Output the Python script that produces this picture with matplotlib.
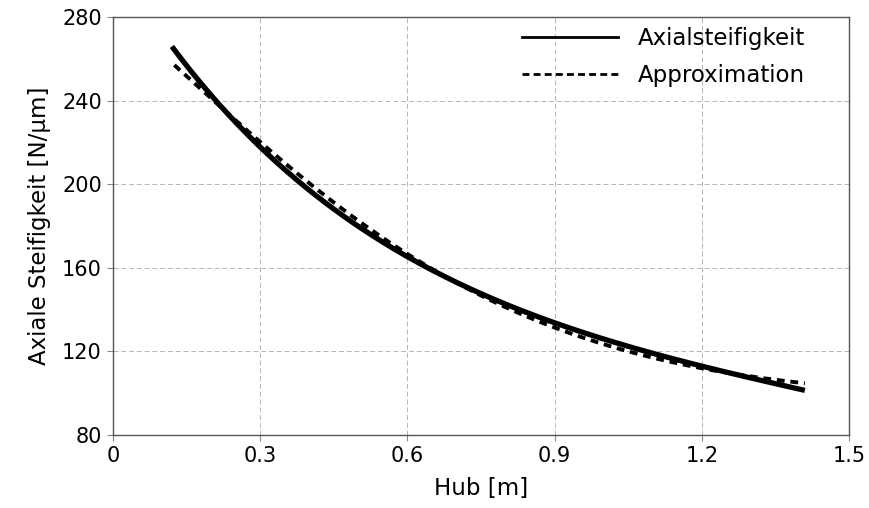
import matplotlib
matplotlib.use("Agg")
import matplotlib.pyplot as plt
import numpy as np
from matplotlib.lines import Line2D

# Hub [m] and axial stiffness [N/um]
hub = [0.12, 0.2, 0.3, 0.4, 0.5, 0.6, 0.7, 0.8, 0.9, 1.0, 1.1, 1.2, 1.3, 1.41]
steifigkeit = [266, 242, 218, 198, 180, 164, 153, 143, 134, 126, 119, 113, 107, 101.5]

hub_approx = [0.125, 0.2, 0.3, 0.4, 0.5, 0.6, 0.7, 0.8, 0.9, 1.0, 1.1, 1.2, 1.3, 1.41]
approx = [257, 241, 220, 201, 183, 166, 152.5, 141, 131.5, 124, 117, 112, 107.5, 105]

xticks = [0, 0.3, 0.6, 0.9, 1.2, 1.5]
xticklabels = ['0', '0.3', '0.6', '0.9', '1.2', '1.5']
yticks = [80, 120, 160, 200, 240, 280]

plt.rcParams['font.family'] = ['DejaVu Sans']

fig = plt.figure(figsize=(8.69, 5.08), dpi=100)
ax = fig.add_axes([113 / 869, 1 - 435 / 508, 736 / 869, 418 / 508])


def smooth(x, y, n=200):
    # smooth curve through the read-off points (polynomial in log space)
    xs = np.linspace(min(x), max(x), n)
    c = np.polyfit(x, np.log(y), 4)
    return xs, np.exp(np.polyval(c, xs))


xs, ys = smooth(hub, steifigkeit)
ax.plot(xs, ys, color='black', lw=3.8, solid_capstyle='butt', zorder=3)
xa, ya = smooth(hub_approx, approx)
ax.plot(xa, ya, color='black', lw=2.8, ls=(0, (2.0, 1.5)), zorder=4)

ax.set_xlim(0, 1.5)
ax.set_ylim(80, 280)
ax.set_xticks(xticks)
ax.set_xticklabels(xticklabels)
ax.set_yticks(yticks)
ax.grid(True, color='#b4b4b4', lw=0.7, ls=(0, (5, 3)))
ax.tick_params(labelsize=15, length=4, width=0.8, color='#888888', pad=4)
for s in ax.spines.values():
    s.set_color('#555555')
    s.set_linewidth(1.0)

ax.set_xlabel('Hub [m]', fontsize=16.5, labelpad=8)
ax.set_ylabel('Axiale Steifigkeit [N/µm]', fontsize=16.5, labelpad=8)

# legend with thinner handles, as in the original
handles = [Line2D([], [], color='black', lw=2.0),
           Line2D([], [], color='black', lw=2.0, ls=(0, (2.5, 1.5)))]
leg = ax.legend(handles, ['Axialsteifigkeit', 'Approximation'],
                loc='upper right', bbox_to_anchor=((805 - 113) / 736, (435 - 27) / 418),
                frameon=False, fontsize=16.5, handlelength=4.2, handletextpad=0.85,
                borderpad=0, borderaxespad=0, labelspacing=0.6)

fig.savefig('out.png', dpi=100)
